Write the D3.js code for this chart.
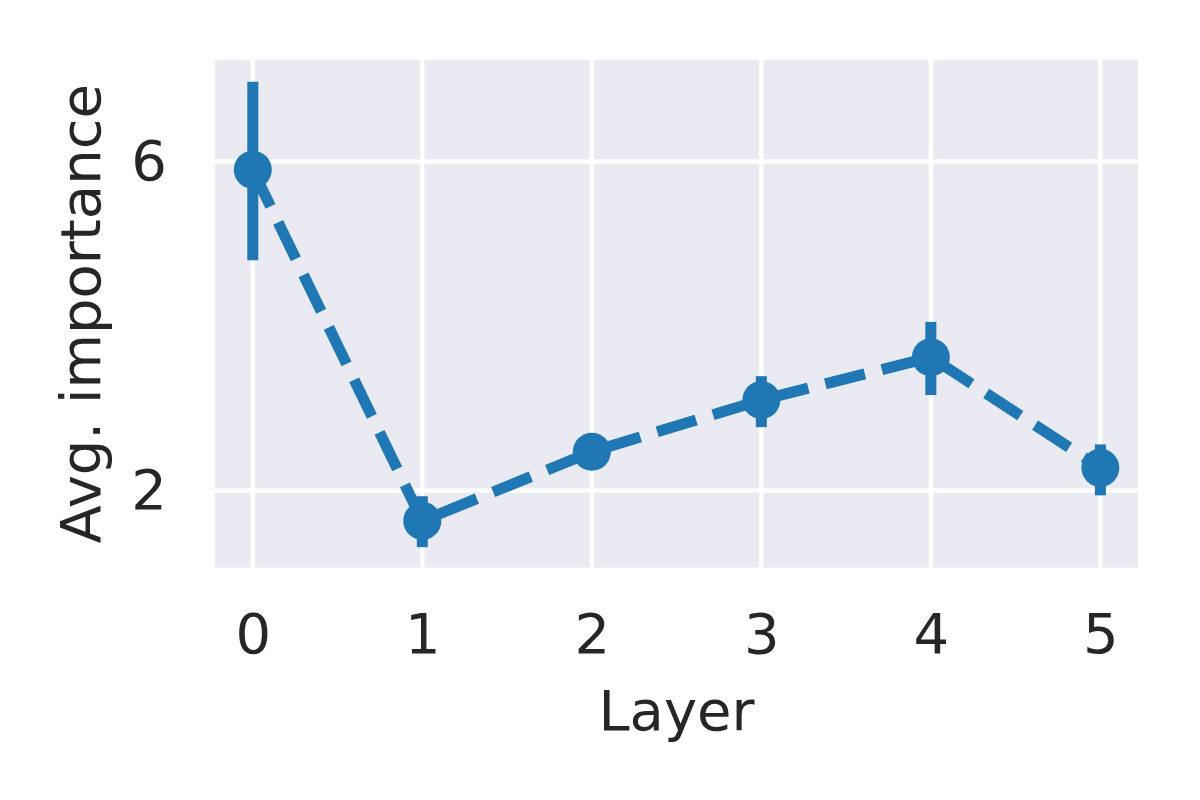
<!DOCTYPE html>
<html>
<head>
<meta charset="utf-8">
<script src="https://cdn.jsdelivr.net/npm/d3@7"></script>
<style>
  html, body { margin: 0; padding: 0; background: #ffffff; }
  text { font-family: "DejaVu Sans", sans-serif; fill: #262626; }
</style>
</head>
<body>
<svg id="chart" width="1200" height="800"></svg>
<script>
const layers = [0, 1, 2, 3, 4, 5];
const meanValues = [5.90, 1.63, 2.47, 3.10, 3.62, 2.275];
const errLow = [4.80, 1.31, 2.37, 2.77, 3.16, 1.94];
const errHigh = [6.97, 1.93, 2.57, 3.39, 4.05, 2.56];
const yTicks = [2, 6];
const xTicks = [0, 1, 2, 3, 4, 5];
const xLabel = "Layer";
const yLabel = "Avg. importance";

(function () {
const svg = d3.select("#chart");
const pLeft = 215, pRight = 1138, pTop = 60, pBottom = 567.5;
const color = "#1f77b4";

const x = d3.scaleLinear().domain([-0.223, 5.222]).range([pLeft, pRight]);
const y = d3.scaleLinear().domain([1.063, 7.235]).range([pBottom, pTop]);

// background
svg.append("rect").attr("x", pLeft).attr("y", pTop)
  .attr("width", pRight - pLeft).attr("height", pBottom - pTop)
  .attr("fill", "#EAEAF2");

// grid
const grid = svg.append("g");
grid.selectAll("line.vx").data(xTicks).enter().append("line")
  .attr("x1", d => x(d)).attr("x2", d => x(d))
  .attr("y1", pTop).attr("y2", pBottom)
  .attr("stroke", "#ffffff").attr("stroke-width", 4.5);
grid.selectAll("line.hy").data(yTicks).enter().append("line")
  .attr("y1", d => y(d)).attr("y2", d => y(d))
  .attr("x1", pLeft).attr("x2", pRight)
  .attr("stroke", "#ffffff").attr("stroke-width", 4.5);

// axes (tick labels only)
const xAxis = d3.axisBottom(x).tickValues(xTicks).tickSize(0).tickPadding(46).tickFormat(d3.format("d"));
const gx = svg.append("g").attr("transform", `translate(0,${pBottom})`).call(xAxis);
gx.select(".domain").remove();
gx.selectAll("text").style("font-size", "56px").attr("fill", "#262626").attr("font-family", "DejaVu Sans");

const yAxis = d3.axisLeft(y).tickValues(yTicks).tickSize(0).tickPadding(48).tickFormat(d3.format("d"));
const gy = svg.append("g").attr("transform", `translate(${pLeft},0)`).call(yAxis);
gy.select(".domain").remove();
gy.selectAll("text").style("font-size", "56px").attr("fill", "#262626").attr("font-family", "DejaVu Sans");

// labels
svg.append("text").attr("x", (pLeft + pRight) / 2).attr("y", 730)
  .attr("text-anchor", "middle").style("font-size", "56px").text(xLabel);
svg.append("text")
  .attr("transform", `translate(100,${(pTop + pBottom) / 2}) rotate(-90)`)
  .attr("text-anchor", "middle").style("font-size", "56px").text(yLabel);

// line
const data = layers.map((l, i) => ({ l, m: meanValues[i], lo: errLow[i], hi: errHigh[i] }));
const line = d3.line().x(d => x(d.l)).y(d => y(d.m));
svg.append("path").datum(data).attr("d", line)
  .attr("fill", "none").attr("stroke", color).attr("stroke-width", 11)
  .attr("stroke-dasharray", "40.7,17.6").attr("stroke-linecap", "butt");

// error bars
svg.selectAll("line.err").data(data).enter().append("line")
  .attr("x1", d => x(d.l)).attr("x2", d => x(d.l))
  .attr("y1", d => y(d.lo)).attr("y2", d => y(d.hi))
  .attr("stroke", color).attr("stroke-width", 11);

// markers
svg.selectAll("circle.pt").data(data).enter().append("circle")
  .attr("cx", d => x(d.l)).attr("cy", d => y(d.m)).attr("r", 19)
  .attr("fill", color);
})();
</script>
</body>
</html>
